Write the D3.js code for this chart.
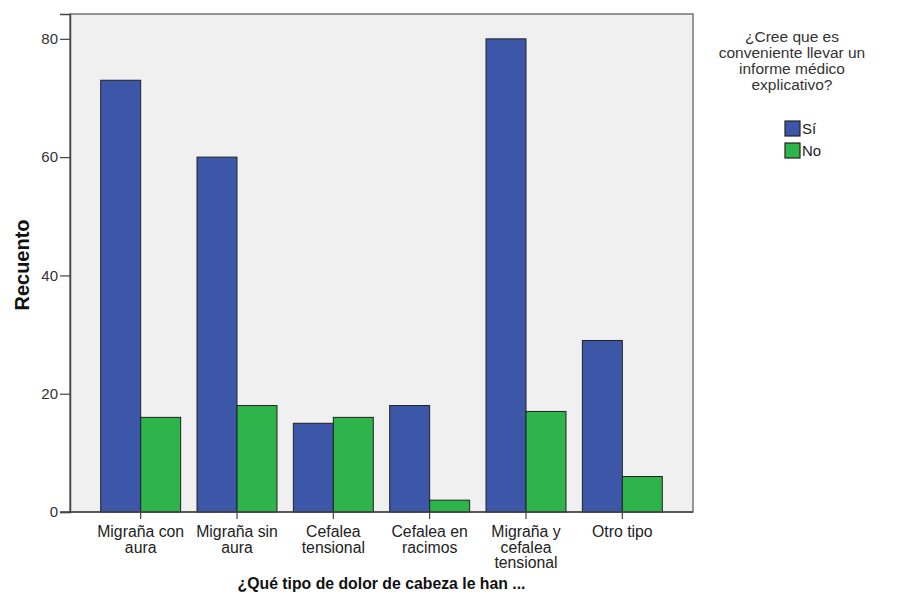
<!DOCTYPE html>
<html><head><meta charset="utf-8">
<script src="https://cdn.jsdelivr.net/npm/d3@7"></script>
<style>body{margin:0;background:#fff}svg{display:block}</style>
</head><body><svg id="c" width="900" height="611"></svg>
<script>
const categories = [["Migraña con","aura"],["Migraña sin","aura"],["Cefalea","tensional"],["Cefalea en","racimos"],["Migraña y","cefalea","tensional"],["Otro tipo"]];
const seriesNames = ["Sí","No"];
const valuesSi = [73,60,15,18,80,29];
const valuesNo = [16,18,16,2,17,6];
const yTicks = [0,20,40,60,80];
const colors = ["#3d57a8","#2db44b"];
const legendTitle = ["¿Cree que es","conveniente llevar un","informe médico","explicativo?"];

const FONT = "Liberation Sans, Arial, sans-serif";
const svg = d3.select("#c");
const L=70,R=693,T=14,B=512;
const y = d3.scaleLinear().domain([0,84.2]).range([B,T]);
const x0 = d3.scaleBand().domain(d3.range(categories.length)).range([L+22.5,R-22.5]).paddingInner(0.17).paddingOuter(0.085);
const x1 = d3.scaleBand().domain([0,1]).range([0,x0.bandwidth()]);

svg.append("rect").attr("x",L).attr("y",T).attr("width",R-L).attr("height",B-T).attr("fill","#f0f0f0").attr("stroke","#555").attr("stroke-width",1.2);

const data = categories.map((c,i)=>[valuesSi[i],valuesNo[i]]);
const g = svg.append("g");
data.forEach((d,i)=>{
  d.forEach((v,j)=>{
    g.append("rect").attr("x",x0(i)+x1(j)).attr("y",y(v)).attr("width",x1.bandwidth()).attr("height",B-y(v))
     .attr("fill",colors[j]).attr("stroke","#222").attr("stroke-width",1);
  });
});

// y axis
const ya = svg.append("g").attr("transform",`translate(${L},0)`).call(d3.axisLeft(y).tickValues(yTicks).tickSize(10).tickPadding(2).tickFormat(d3.format("d")));
ya.select(".domain").attr("stroke","#444").attr("stroke-width",1.5);
ya.selectAll(".tick line").attr("stroke","#444").attr("stroke-width",1.2);
ya.selectAll("text").attr("font-family",FONT).attr("font-size",15).attr("fill","#333");

// x axis
const xa = svg.append("g").attr("transform",`translate(0,${B})`).call(d3.axisBottom(x0).tickSize(7).tickFormat(""));
xa.select(".domain").remove();
svg.append("line").attr("x1",L-10).attr("x2",R).attr("y1",B).attr("y2",B).attr("stroke","#444").attr("stroke-width",1.5);
xa.selectAll(".tick line").attr("stroke","#444").attr("stroke-width",1.2);
categories.forEach((lines,i)=>{
  const cx = x0(i)+x0.bandwidth()/2;
  const t = svg.append("text").attr("x",cx).attr("y",B+25)
    .attr("text-anchor","middle").attr("font-family",FONT).attr("font-size",15.8).attr("fill","#222");
  lines.forEach((s,k)=>t.append("tspan").attr("x",cx).attr("dy",k?15.5:0).text(s));
});

svg.append("text").attr("transform",`translate(29,${(T+B)/2+2}) rotate(-90)`).attr("text-anchor","middle")
  .attr("font-family",FONT).attr("font-weight","bold").attr("font-size",20).attr("fill","#111").text("Recuento");
svg.append("text").attr("x",(L+R)/2).attr("y",589).attr("text-anchor","middle")
  .attr("font-family",FONT).attr("font-weight","bold").attr("font-size",15.8).attr("fill","#111").text("¿Qué tipo de dolor de cabeza le han ...");

// legend
const lt = svg.append("text").attr("text-anchor","middle").attr("font-family",FONT).attr("font-size",15.5).attr("fill","#333");
legendTitle.forEach((s,k)=>lt.append("tspan").attr("x",792).attr("y",42+k*16).text(s));
seriesNames.forEach((n,j)=>{
  svg.append("rect").attr("x",785).attr("y",121+j*22).attr("width",15).attr("height",15).attr("fill",colors[j]).attr("stroke","#222").attr("stroke-width",1.2);
  svg.append("text").attr("x",802).attr("y",134+j*22).attr("font-family",FONT).attr("font-size",15).attr("fill","#222").text(n);
});
</script></body></html>
